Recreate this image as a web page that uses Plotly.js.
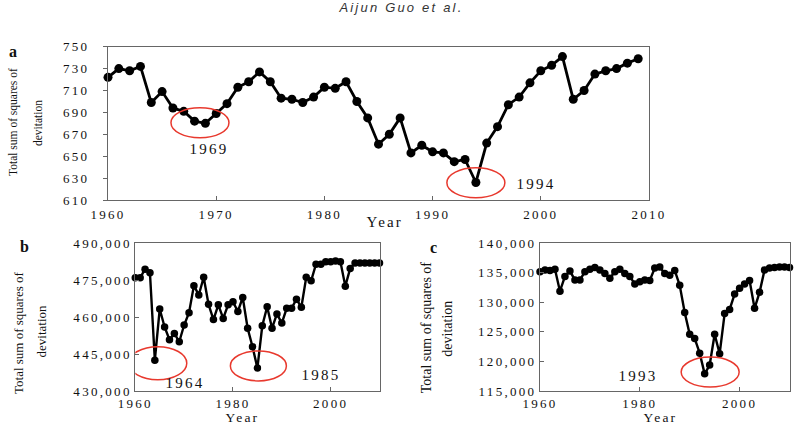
<!DOCTYPE html>
<html>
<head>
<meta charset="utf-8">
<script src="https://cdn.plot.ly/plotly-3.0.1.min.js"></script>
<style>
  html, body { margin: 0; padding: 0; background: #fff; }
  #chart { width: 797px; height: 424px; }
  .xtick text, .x2tick text, .x3tick text,
  .ytick text, .y2tick text, .y3tick text { letter-spacing: 2.3px; }
</style>
</head>
<body>
<div id="chart"></div>
<script>
// (a) total sum of squares of deviation, 1960-2009
const yearsA = [1960, 1961, 1962, 1963, 1964, 1965, 1966, 1967, 1968, 1969,
                1970, 1971, 1972, 1973, 1974, 1975, 1976, 1977, 1978, 1979,
                1980, 1981, 1982, 1983, 1984, 1985, 1986, 1987, 1988, 1989,
                1990, 1991, 1992, 1993, 1994, 1995, 1996, 1997, 1998, 1999,
                2000, 2001, 2002, 2003, 2004, 2005, 2006, 2007, 2008, 2009];
const sumSqA = [722, 730, 728, 732, 699, 709, 694, 691, 682, 680,
                689, 698, 713, 718, 727, 718, 703, 702, 699, 704,
                713, 712, 718, 700, 685, 661, 670, 685, 653, 660,
                654, 653, 645, 647, 626, 662, 677, 697, 704, 717,
                728, 733, 741, 702, 710, 725, 728, 730, 735, 739];

// (b) and (c) share the 1960-2010 year range
const yearsBC = [1960, 1961, 1962, 1963, 1964, 1965, 1966, 1967, 1968, 1969,
                 1970, 1971, 1972, 1973, 1974, 1975, 1976, 1977, 1978, 1979,
                 1980, 1981, 1982, 1983, 1984, 1985, 1986, 1987, 1988, 1989,
                 1990, 1991, 1992, 1993, 1994, 1995, 1996, 1997, 1998, 1999,
                 2000, 2001, 2002, 2003, 2004, 2005, 2006, 2007, 2008, 2009, 2010];
const sumSqB = [476000, 476000, 479500, 478000, 442500, 463300, 456000, 450800, 453400, 450000,
                456800, 461800, 472800, 469000, 476200, 465200, 459000, 465000, 459500, 465000,
                466300, 462300, 468000, 455500, 448000, 439300, 456500, 464200, 455500, 461300,
                457600, 463600, 463600, 467300, 464000, 476200, 474800, 481500, 481500, 482500,
                482500, 482800, 482500, 472600, 479800, 482000, 482000, 482000, 482000, 482000, 482000];
const sumSqC = [135200, 135500, 135400, 135600, 131900, 134400, 135300, 133800, 133800, 135200,
                135600, 135900, 135500, 134900, 134100, 135200, 135600, 134900, 134400, 133100,
                133500, 133800, 133700, 135800, 136000, 134900, 134600, 135400, 132900, 128300,
                124600, 123900, 121400, 117900, 119400, 124600, 121300, 128100, 128800, 131400,
                132400, 133100, 133700, 129000, 131700, 135500, 135800, 135900, 136000, 136000, 135900];

// highlighted minima: [year, value] centre of each ring
const ringA = [[1968.5, 680.6], [1994.0, 625.8]];
const ringB = [[1964.6, 441300], [1985.2, 440200]];
const ringC = [[1994.1, 118200]];

const W = 797, H = 424;
const px = v => v / W;
const py = v => 1 - v / H;

const serif = 'Liberation Serif, Times New Roman, serif';
const ink = '#111';

function series(x, y, xa, ya, msize, lw) {
  return {
    x: x, y: y, xaxis: xa, yaxis: ya, type: 'scatter', mode: 'lines+markers',
    line: {color: '#000', width: lw},
    marker: {color: '#000', size: msize},
    cliponaxis: false,
    hoverinfo: 'skip', showlegend: false
  };
}

const traces = [
  series(yearsA, sumSqA, 'x', 'y', 9, 2.8),
  series(yearsBC, sumSqB, 'x2', 'y2', 7.5, 2.4),
  series(yearsBC, sumSqC, 'x3', 'y3', 7.5, 2.4)
];

function xAxis(dom, dtick, anchor, size, standoff) {
  return {
    domain: dom, anchor: anchor, range: [1960, 2010], dtick: dtick, tick0: 1960,
    showline: true, linecolor: '#666', linewidth: 1, mirror: true,
    ticks: 'inside', ticklen: 4, tickcolor: '#666',
    ticklabelstandoff: standoff,
    showgrid: false, zeroline: false,
    tickfont: {family: serif, size: size, color: ink}
  };
}
function yAxis(dom, range, dtick, fmt, anchor, tickside, standoff) {
  return {
    domain: dom, anchor: anchor, range: range, dtick: dtick, tick0: range[0],
    tickformat: fmt,
    showline: true, linecolor: '#666', linewidth: 1, mirror: true,
    ticks: tickside, ticklen: 4, tickcolor: '#666',
    ticklabelstandoff: standoff,
    showgrid: false, zeroline: false,
    tickfont: {family: serif, size: 13, color: ink}
  };
}

const layout = {
  width: W, height: H,
  margin: {l: 0, r: 0, t: 0, b: 0},
  paper_bgcolor: '#fff', plot_bgcolor: '#fff',
  xaxis:  xAxis([px(108), px(649)], 10, 'y', 13, 2),
  yaxis:  yAxis([py(200), py(46.7)], [610, 750], 20, 'd', 'x', 'outside', 11),
  xaxis2: xAxis([px(135.3), px(379.5)], 20, 'y2', 13, 0),
  yaxis2: yAxis([py(391), py(243.3)], [430000, 490000], 15000, ',d', 'x2', 'inside', 16.5),
  xaxis3: xAxis([px(540), px(789.5)], 20, 'y3', 13, 0),
  yaxis3: yAxis([py(391), py(243.3)], [115000, 140000], 5000, ',d', 'x3', 'inside', 14.5),
  shapes: [],
  annotations: []
};

function ring(c, xr, yr, rx, ry) {
  return {
    type: 'circle', xref: xr, yref: yr,
    xsizemode: 'pixel', ysizemode: 'pixel',
    xanchor: c[0], yanchor: c[1],
    x0: -rx, x1: rx, y0: -ry, y1: ry,
    line: {color: '#e8392e', width: 1.5}, fillcolor: 'rgba(0,0,0,0)'
  };
}
ringA.forEach(c => layout.shapes.push(ring(c, 'x', 'y', 29, 15)));
layout.shapes.push(ring(ringB[0], 'x2', 'y2', 29, 16.5));
layout.shapes.push(ring(ringB[1], 'x2', 'y2', 28, 15));
ringC.forEach(c => layout.shapes.push(ring(c, 'x3', 'y3', 29, 15)));

function label(text, x, y, size, opts) {
  return Object.assign({
    text: text, xref: 'paper', yref: 'paper', x: px(x), y: py(y),
    xanchor: 'center', yanchor: 'middle', showarrow: false,
    font: {family: serif, size: size, color: ink}
  }, opts || {});
}

layout.annotations.push(
  // running header
  label('Aijun Guo et al.', 401, 8, 13, {
    font: {family: 'Liberation Sans, Arial, sans-serif', size: 13, color: '#333', style: 'italic'}}),
  // panel letters
  label('<b>a</b>', 13.5, 51.7, 16),
  label('<b>b</b>', 25, 246.7, 16),
  label('<b>c</b>', 434, 247.7, 16),
  // year labels beside the rings
  label('1969', 209, 149, 15),
  label('1994', 536.7, 184, 15),
  label('1964', 185, 382.7, 15),
  label('1985', 320.7, 375, 15),
  label('1993', 637.7, 375.7, 15),
  // x-axis titles
  label('Year', 385, 222, 15),
  label('Year', 242.7, 417, 13.5),
  label('Year', 660, 417, 13.5),
  // y-axis titles, two rotated lines each
  label('Total sum of squares of', 13.5, 122.5, 11.5, {textangle: -90}),
  label('devitation', 38, 123, 11.5, {textangle: -90}),
  label('Total sum of squares of', 18, 333, 13, {textangle: -90}),
  label('devitation', 41.7, 331.7, 13, {textangle: -90}),
  label('Total sum of squares of', 426.7, 327.5, 14, {textangle: -90}),
  label('devitation', 446.7, 329, 14, {textangle: -90})
);

Plotly.newPlot('chart', traces, layout, {staticPlot: true, displayModeBar: false}).then(function (gd) {
  // widen the horizontal labels; rotated titles keep normal spacing
  gd.querySelectorAll('.annotation').forEach(function (g) {
    const ann = gd.layout.annotations[+g.getAttribute('data-index')];
    if (ann && !ann.textangle) {
      g.querySelectorAll('text').forEach(function (t) { t.style.letterSpacing = '2.2px'; });
    }
  });
});
</script>
</body>
</html>
